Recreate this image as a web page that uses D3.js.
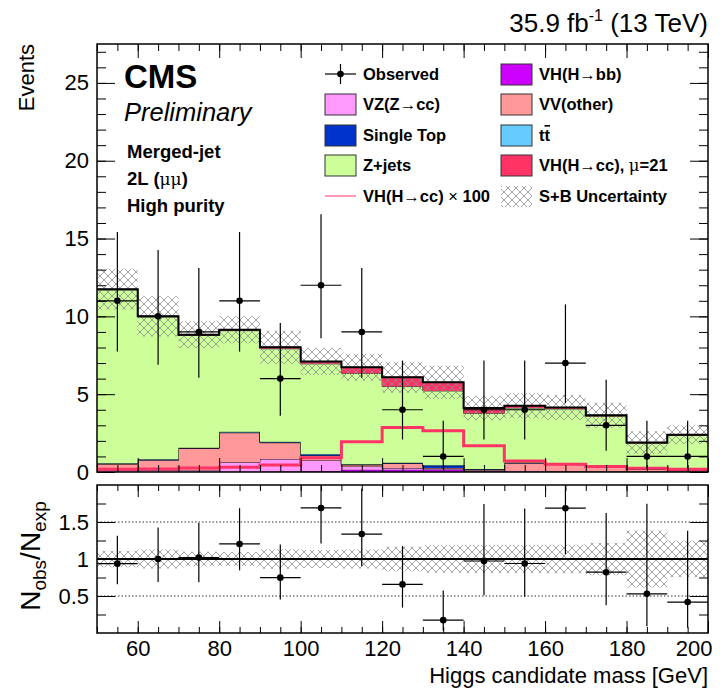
<!DOCTYPE html>
<html>
<head>
<meta charset="utf-8">
<script src="https://cdn.jsdelivr.net/npm/d3@7"></script>
<style>
body { margin: 0; background: #fff; }
svg { display: block; }
text { font-family: "Liberation Sans", Arial, Helvetica, sans-serif; fill: #000; }
</style>
</head>
<body>
<div id="chart"></div>
<script>
// bins of the Higgs candidate mass [GeV]
const binEdges = [50, 60, 70, 80, 90, 100, 110, 120, 130, 140, 150, 160, 170, 180, 190, 200];

// observed counts and their (Poisson) error bar ends
const observed = [11, 10, 9, 11, 6, 12, 9, 4, 1, 4, 4, 7, 3, 1, 1];
const obsLow  = [7.74, 6.89, 6.06, 7.74, 3.62, 8.59, 6.06, 2.09, 0.17, 2.09, 2.09, 4.42, 1.37, 0.17, 0.17];
const obsHigh = [15.42, 14.27, 13.11, 15.42, 9.58, 16.56, 13.11, 7.16, 3.30, 7.16, 7.16, 10.77, 5.92, 3.30, 3.30];

// stacked expectation, bottom to top
const vhbb      = [0.01, 0.01, 0.02, 0.02, 0.03, 0.05, 0.15, 0.15, 0.15, 0.05, 0.02, 0.02, 0.01, 0.01, 0.01];
const vzcc      = [0.10, 0.10, 0.10, 0.60, 0.80, 0.70, 0.20, 0.10, 0.05, 0.05, 0.05, 0.03, 0.02, 0.02, 0.02];
const vvother   = [0.40, 0.65, 1.40, 1.90, 1.05, 0.30, 0.10, 0.30, 0.05, 0.05, 0.50, 0.45, 0.30, 0.15, 0.10];
const singletop = [0.02, 0.03, 0.02, 0.02, 0.03, 0.05, 0.03, 0.03, 0.15, 0.02, 0.02, 0.03, 0.02, 0.01, 0.01];
const ttbar     = [0.03, 0.03, 0.02, 0.05, 0.03, 0.05, 0.02, 0.02, 0.05, 0.02, 0.02, 0.03, 0.02, 0.01, 0.01];
const zjets     = [11.14, 9.14, 7.21, 6.49, 5.98, 5.80, 5.84, 4.89, 4.76, 3.58, 3.50, 3.49, 3.21, 1.64, 2.20];
const vhccMu21  = [0.04, 0.04, 0.05, 0.06, 0.10, 0.15, 0.39, 0.60, 0.55, 0.34, 0.15, 0.10, 0.07, 0.05, 0.04];

// VH(H->cc) x 100, drawn as a line
const vhccX100 = [0.17, 0.20, 0.25, 0.30, 0.45, 0.92, 1.94, 2.86, 2.65, 1.68, 0.71, 0.50, 0.35, 0.24, 0.17];

// S+B uncertainty (absolute, +-)
const sbUnc = [1.32, 1.29, 0.86, 0.87, 1.06, 0.86, 0.86, 1.00, 1.07, 0.78, 0.80, 0.80, 0.80, 0.73, 0.59];

// axis ticks
const yMajor = [0, 5, 10, 15, 20, 25];
const xMajor = [60, 80, 100, 120, 140, 160, 180, 200];
const rMajor = [0.5, 1, 1.5];
const rMinor = [0.25, 0.75, 1.25, 1.75];

const keys = ["vhbb", "vzcc", "vvother", "singletop", "ttbar", "zjets", "vhcc"];
const colors = {
	vhbb: "#cc00ff", vzcc: "#ff99ff", vvother: "#ff9999", singletop: "#0033cc",
	ttbar: "#66ccff", zjets: "#ccff99", vhcc: "#ff3366"
};

const rows = observed.map((d, i) => ({
	vhbb: vhbb[i], vzcc: vzcc[i], vvother: vvother[i], singletop: singletop[i],
	ttbar: ttbar[i], zjets: zjets[i], vhcc: vhccMu21[i]
}));
const series = d3.stack().keys(keys)(rows);
const total = rows.map((r) => d3.sum(keys, (k) => r[k]));

const W = 722, H = 690;
const L = 97, R = 708;
const top1 = 44, bot1 = 472;
const top2 = 485, bot2 = 633;

const svg = d3.select("#chart").append("svg")
	.attr("width", W)
	.attr("height", H);

const x = d3.scaleLinear().domain([50, 200]).range([L, R]);
const y = d3.scaleLinear().domain([0, 27.5]).range([bot1, top1]);
const yr = d3.scaleLinear().domain([0, 2]).range([bot2, top2]);

const defs = svg.append("defs");
const hatch = defs.append("pattern")
	.attr("id", "hatch")
	.attr("patternUnits", "userSpaceOnUse")
	.attr("width", 8)
	.attr("height", 8);
hatch.append("path")
	.attr("d", "M0,0L8,8M8,0L0,8")
	.attr("stroke", "#8c8c8c")
	.attr("stroke-width", 0.8)
	.attr("fill", "none");

defs.append("clipPath").attr("id", "clipTop").append("rect")
	.attr("x", L).attr("y", top1).attr("width", R - L).attr("height", bot1 - top1);
defs.append("clipPath").attr("id", "clipRatio").append("rect")
	.attr("x", L).attr("y", top2).attr("width", R - L).attr("height", bot2 - top2);

// step helpers: two points per bin
const steps = (arr) => arr.flatMap((d, i) => [
	{ x: binEdges[i], d: d }, { x: binEdges[i + 1], d: d }
]);

// ---------- top panel ----------
const gTop = svg.append("g").attr("clip-path", "url(#clipTop)");

const area = d3.area()
	.x((p) => x(p.x))
	.y0((p) => y(p.d[0]))
	.y1((p) => y(p.d[1]));
const topLine = d3.line()
	.x((p) => x(p.x))
	.y((p) => y(p.d[1]));

series.forEach((s) => {
	const pts = steps(s.map((d) => [d[0], d[1]]));
	gTop.append("path")
		.attr("d", area(pts))
		.attr("fill", colors[s.key]);
	gTop.append("path")
		.attr("d", topLine(pts))
		.attr("fill", "none")
		.attr("stroke", "#000")
		.attr("stroke-width", 0.8);
});

// uncertainty band
gTop.append("path")
	.attr("d", area(steps(total.map((t, i) => [t - sbUnc[i], t + sbUnc[i]]))))
	.attr("fill", "url(#hatch)");

// total outline
gTop.append("path")
	.attr("d", topLine(steps(total.map((t) => [0, t]))))
	.attr("fill", "none")
	.attr("stroke", "#000")
	.attr("stroke-width", 2);

// VH(H->cc) x 100 line
gTop.append("path")
	.attr("d", topLine(steps(vhccX100.map((v) => [0, v]))))
	.attr("fill", "none")
	.attr("stroke", colors.vhcc)
	.attr("stroke-width", 3);

// data points
const dataG = gTop.append("g");
observed.forEach((n, i) => {
	const cx = x((binEdges[i] + binEdges[i + 1]) / 2);
	dataG.append("line")
		.attr("x1", cx).attr("x2", cx)
		.attr("y1", y(obsLow[i])).attr("y2", y(obsHigh[i]))
		.attr("stroke", "#000").attr("stroke-width", 1.2);
	dataG.append("line")
		.attr("x1", x(binEdges[i])).attr("x2", x(binEdges[i + 1]))
		.attr("y1", y(n)).attr("y2", y(n))
		.attr("stroke", "#000").attr("stroke-width", 1.2);
	dataG.append("circle")
		.attr("cx", cx).attr("cy", y(n)).attr("r", 3.3)
		.attr("fill", "#000");
});

// ---------- ratio panel ----------
const gRat = svg.append("g").attr("clip-path", "url(#clipRatio)");
const rArea = d3.area()
	.x((p) => x(p.x))
	.y0((p) => yr(p.d[0]))
	.y1((p) => yr(p.d[1]));

gRat.append("path")
	.attr("d", rArea(steps(total.map((t, i) => [1 - sbUnc[i] / t, 1 + sbUnc[i] / t]))))
	.attr("fill", "url(#hatch)");

[0.5, 1.5].forEach((v) => {
	gRat.append("line")
		.attr("x1", L).attr("x2", R)
		.attr("y1", yr(v)).attr("y2", yr(v))
		.attr("stroke", "#333").attr("stroke-width", 1)
		.attr("stroke-dasharray", "1.5,2");
});
gRat.append("line")
	.attr("x1", L).attr("x2", R)
	.attr("y1", yr(1)).attr("y2", yr(1))
	.attr("stroke", "#000").attr("stroke-width", 2);

observed.forEach((n, i) => {
	const cx = x((binEdges[i] + binEdges[i + 1]) / 2);
	const t = total[i];
	gRat.append("line")
		.attr("x1", cx).attr("x2", cx)
		.attr("y1", yr(obsLow[i] / t)).attr("y2", yr(obsHigh[i] / t))
		.attr("stroke", "#000").attr("stroke-width", 1.2);
	gRat.append("line")
		.attr("x1", x(binEdges[i])).attr("x2", x(binEdges[i + 1]))
		.attr("y1", yr(n / t)).attr("y2", yr(n / t))
		.attr("stroke", "#000").attr("stroke-width", 1.2);
	gRat.append("circle")
		.attr("cx", cx).attr("cy", yr(n / t)).attr("r", 3.3)
		.attr("fill", "#000");
});

// ---------- axes (ROOT style ticks pointing inward) ----------
const xMinor = d3.range(50, 201, 5);

function ticks(axis, tx, ty, labels) {
	const g = svg.append("g")
		.attr("transform", "translate(" + tx + "," + ty + ")")
		.call(axis);
	g.select(".domain").remove();
	g.selectAll(".tick line").attr("stroke", "#000").attr("stroke-width", 1);
	if (!labels) g.selectAll(".tick text").remove();
	else g.selectAll(".tick text")
		.attr("font-size", 22)
		.attr("font-family", "Liberation Sans, Arial, sans-serif")
		.attr("fill", "#000");
	return g;
}

// top panel
ticks(d3.axisLeft(y).tickValues(yMajor).tickSize(-18).tickPadding(8), L, 0, true);
ticks(d3.axisLeft(y).tickValues(d3.range(0, 28, 1)).tickSize(-9), L, 0, false);
ticks(d3.axisRight(y).tickValues(yMajor).tickSize(-18), R, 0, false);
ticks(d3.axisRight(y).tickValues(d3.range(0, 28, 1)).tickSize(-9), R, 0, false);
ticks(d3.axisBottom(x).tickValues(xMajor).tickSize(-14), 0, bot1, false);
ticks(d3.axisBottom(x).tickValues(xMinor).tickSize(-7), 0, bot1, false);
ticks(d3.axisTop(x).tickValues(xMajor).tickSize(-14), 0, top1, false);
ticks(d3.axisTop(x).tickValues(xMinor).tickSize(-7), 0, top1, false);

// ratio panel
ticks(d3.axisLeft(yr).tickValues(rMajor).tickSize(-18).tickPadding(8)
	.tickFormat(d3.format("")), L, 0, true);
ticks(d3.axisLeft(yr).tickValues(rMinor).tickSize(-9), L, 0, false);
ticks(d3.axisRight(yr).tickValues(rMajor).tickSize(-18), R, 0, false);
ticks(d3.axisRight(yr).tickValues(rMinor).tickSize(-9), R, 0, false);
const xLab = ticks(d3.axisBottom(x).tickValues(xMajor).tickSize(-12).tickPadding(7), 0, bot2, true);
// keep the last label inside the picture
xLab.selectAll(".tick text").filter((d) => d === 200)
	.attr("text-anchor", "end").attr("x", 4);
ticks(d3.axisBottom(x).tickValues(xMinor).tickSize(-6), 0, bot2, false);
ticks(d3.axisTop(x).tickValues(xMajor).tickSize(-12), 0, top2, false);
ticks(d3.axisTop(x).tickValues(xMinor).tickSize(-6), 0, top2, false);

// frames
[[top1, bot1], [top2, bot2]].forEach(([t, b]) => {
	svg.append("rect")
		.attr("x", L).attr("y", t)
		.attr("width", R - L).attr("height", b - t)
		.attr("fill", "none")
		.attr("stroke", "#000")
		.attr("stroke-width", 1.5);
});

// ---------- texts ----------
const lumi = svg.append("text")
	.attr("x", R).attr("y", 32)
	.attr("text-anchor", "end")
	.attr("font-size", 26);
lumi.append("tspan").text("35.9 fb");
lumi.append("tspan").attr("font-size", 16).attr("dy", -11).text("-1");
lumi.append("tspan").attr("dy", 11).text(" (13 TeV)");

svg.append("text")
	.attr("transform", "translate(34," + top1 + ") rotate(-90)")
	.attr("text-anchor", "end")
	.attr("font-size", 22)
	.text("Events");

svg.append("text")
	.attr("x", 124).attr("y", 88)
	.attr("font-size", 33).attr("font-weight", "bold")
	.text("CMS");
svg.append("text")
	.attr("x", 124).attr("y", 121)
	.attr("font-size", 25.5).attr("font-style", "italic")
	.text("Preliminary");

const info = [["Merged-jet", 158], ["2L (", 185], ["High purity", 212]];
info.forEach(([s, yy]) => {
	const t = svg.append("text")
		.attr("x", 127).attr("y", yy)
		.attr("font-size", 18.5).attr("font-weight", "bold")
		.text(s);
	if (s === "2L (") {
		t.append("tspan").attr("font-weight", "normal")
			.attr("font-family", "DejaVu Serif, serif").attr("font-size", 17).text("μμ");
		t.append("tspan").text(")");
	}
});

// legend
const legend = [
	{ col: 0, row: 0, type: "data", label: "Observed" },
	{ col: 1, row: 0, type: "box", color: colors.vhbb, label: "VH(H→bb)" },
	{ col: 0, row: 1, type: "box", color: colors.vzcc, label: "VZ(Z→cc)" },
	{ col: 1, row: 1, type: "box", color: colors.vvother, label: "VV(other)" },
	{ col: 0, row: 2, type: "box", color: colors.singletop, label: "Single Top" },
	{ col: 1, row: 2, type: "box", color: colors.ttbar, label: "tt" },
	{ col: 0, row: 3, type: "box", color: colors.zjets, label: "Z+jets" },
	{ col: 1, row: 3, type: "box", color: colors.vhcc, label: "VH(H→cc), " },
	{ col: 0, row: 4, type: "line", color: colors.vhcc, label: "VH(H→cc) " },
	{ col: 1, row: 4, type: "hatch", label: "S+B Uncertainty" }
];
const colX = [325, 501];
const rowY = [74, 104, 135, 165, 196];
const lg = svg.append("g");
legend.forEach((e) => {
	const bx = colX[e.col], cy = rowY[e.row];
	if (e.type === "box" || e.type === "hatch") {
		lg.append("rect")
			.attr("x", bx).attr("y", cy - 10)
			.attr("width", 31).attr("height", 21)
			.attr("fill", e.type === "box" ? e.color : "url(#hatch)")
			.attr("stroke", e.type === "box" ? "#333" : "none")
			.attr("stroke-width", 1);
	} else if (e.type === "data") {
		lg.append("line").attr("x1", bx).attr("x2", bx + 31).attr("y1", cy).attr("y2", cy)
			.attr("stroke", "#000").attr("stroke-width", 1.2);
		lg.append("line").attr("x1", bx + 15.5).attr("x2", bx + 15.5).attr("y1", cy - 10).attr("y2", cy + 10)
			.attr("stroke", "#000").attr("stroke-width", 1.2);
		lg.append("circle").attr("cx", bx + 15.5).attr("cy", cy).attr("r", 3.3).attr("fill", "#000");
	} else {
		lg.append("line").attr("x1", bx).attr("x2", bx + 31).attr("y1", cy).attr("y2", cy)
			.attr("stroke", e.color).attr("stroke-width", 1);
	}
	const t = lg.append("text")
		.attr("x", bx + 38).attr("y", cy + 6)
		.attr("font-size", 16.5).attr("font-weight", "bold")
		.text(e.label);
	if (e.label === "tt") {
		t.text("t");
		t.append("tspan").style("text-decoration", "overline").text("t");
	}
	if (e.label === "VH(H→cc), ") {
		t.append("tspan").attr("font-weight", "normal")
			.attr("font-family", "DejaVu Serif, serif").text("μ");
		t.append("tspan").text("=21");
	}
	if (e.label === "VH(H→cc) ") {
		t.append("tspan").attr("font-weight", "normal").text("× ");
		t.append("tspan").text("100");
	}
});

// ratio y title
const rt = svg.append("text")
	.attr("transform", "translate(40,556) rotate(-90)")
	.attr("text-anchor", "middle")
	.attr("font-size", 28);
rt.append("tspan").text("N");
rt.append("tspan").attr("font-size", 19).attr("dy", 6).text("obs");
rt.append("tspan").attr("dy", -6).text("/N");
rt.append("tspan").attr("font-size", 19).attr("dy", 6).text("exp");

// x title
svg.append("text")
	.attr("x", R).attr("y", 683)
	.attr("text-anchor", "end")
	.attr("font-size", 22)
	.text("Higgs candidate mass [GeV]");
</script>
</body>
</html>
